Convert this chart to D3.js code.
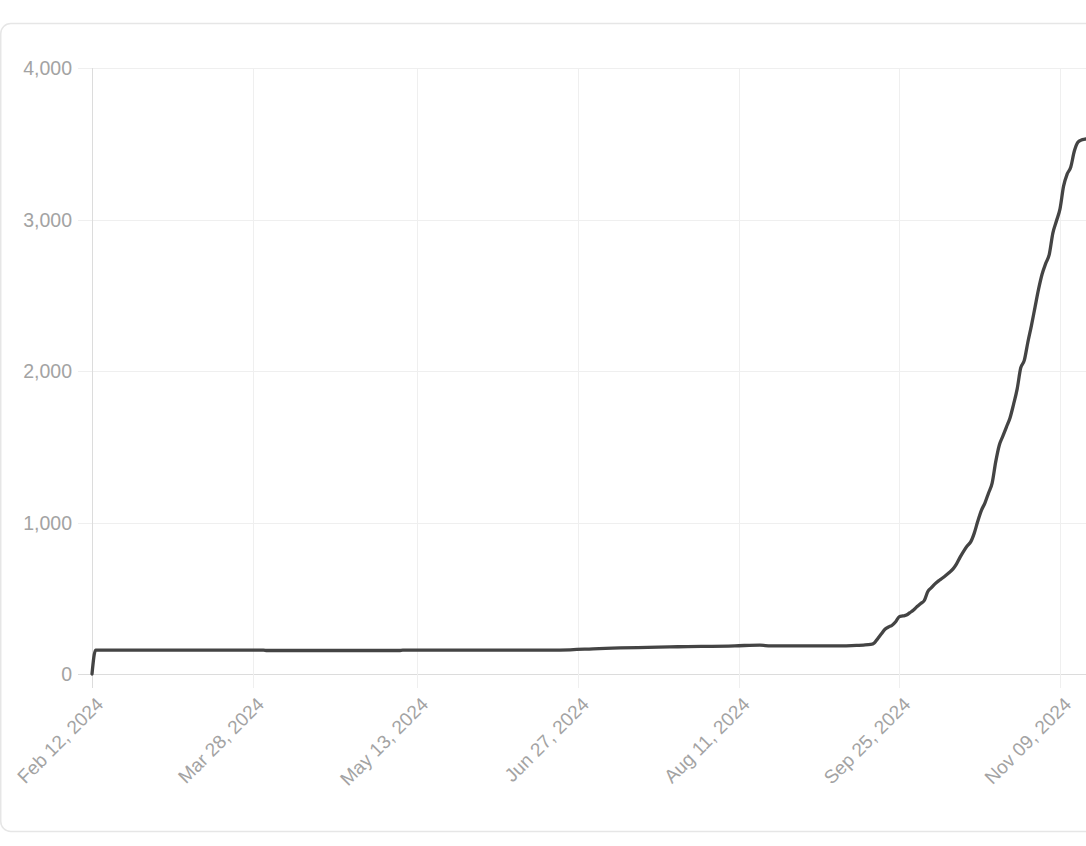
<!DOCTYPE html>
<html>
<head>
<meta charset="utf-8">
<script src="https://cdn.jsdelivr.net/npm/d3@7/dist/d3.min.js"></script>
<style>
  html, body { margin: 0; padding: 0; background: #fff; }
  svg { display: block; }
  text { font-family: "Liberation Sans", Arial, Helvetica, sans-serif; }
</style>
</head>
<body>
<svg id="chart" width="1086" height="846"></svg>
<script>
// ---- data ----
const dates = [
  "2024-02-12","2024-02-13","2024-03-31","2024-04-01","2024-05-08","2024-05-09",
  "2024-06-22","2024-07-03","2024-07-25","2024-08-10","2024-08-17","2024-08-20",
  "2024-09-09","2024-09-13","2024-09-15","2024-09-17",
  "2024-09-18","2024-09-19","2024-09-20","2024-09-21","2024-09-22","2024-09-23",
  "2024-09-24","2024-09-25","2024-09-26","2024-09-27","2024-09-28","2024-09-29",
  "2024-09-30","2024-10-01","2024-10-02","2024-10-03","2024-10-04","2024-10-05",
  "2024-10-06","2024-10-07","2024-10-08","2024-10-09","2024-10-10","2024-10-11",
  "2024-10-12","2024-10-13","2024-10-14","2024-10-15","2024-10-16","2024-10-17",
  "2024-10-18","2024-10-19","2024-10-20","2024-10-21","2024-10-22","2024-10-23",
  "2024-10-24","2024-10-25","2024-10-26","2024-10-27","2024-10-28","2024-10-29",
  "2024-10-30","2024-10-31","2024-11-01","2024-11-02","2024-11-03","2024-11-04",
  "2024-11-05","2024-11-06","2024-11-07","2024-11-08","2024-11-09","2024-11-10",
  "2024-11-11","2024-11-12","2024-11-13","2024-11-14","2024-11-15","2024-11-16",
  "2024-11-17"
];
const values = [
  0, 158, 158, 155, 155, 158,
  158, 168, 180, 186, 191, 185,
  185, 189, 191, 195,
  205, 235, 265, 295, 310, 322,
  345, 378, 383, 389, 405, 422,
  445, 465, 485, 545, 570, 595,
  615, 632, 650, 670, 692, 725,
  770, 810, 845, 872, 930, 1010,
  1080, 1130, 1195, 1260, 1400, 1510,
  1570, 1630, 1690, 1780, 1880, 2020,
  2070, 2190, 2300, 2420, 2540, 2640,
  2710, 2770, 2910, 2990, 3070, 3220,
  3300, 3345, 3450, 3510, 3525, 3530,
  3535
];
const xTickDates = ["2024-02-12","2024-03-28","2024-05-13","2024-06-27","2024-08-11","2024-09-25","2024-11-09"];
const xTickLabels = ["Feb 12, 2024","Mar 28, 2024","May 13, 2024","Jun 27, 2024","Aug 11, 2024","Sep 25, 2024","Nov 09, 2024"];
const yTicks = [0, 1000, 2000, 3000, 4000];

// ---- layout ----
const svg = d3.select("#chart");
const plotLeft = 92, plotTop = 68, plotBottom = 674;
const parse = d3.utcParse("%Y-%m-%d");
const data = dates.map((d, i) => ({ date: parse(d), value: values[i] }));

const x = d3.scaleUtc()
  .domain([parse("2024-02-12"), parse("2024-11-09")])
  .range([plotLeft, 1060]);
const y = d3.scaleLinear().domain([0, 4000]).range([plotBottom, plotTop]);

// card
svg.append("rect")
  .attr("x", 0.75).attr("y", 23.5)
  .attr("width", 1120).attr("height", 808)
  .attr("rx", 10)
  .attr("fill", "#fff")
  .attr("stroke", "#e6e6e6")
  .attr("stroke-width", 1.5);

const rightEdge = 1100;

// horizontal grid + y labels
const gy = svg.append("g");
gy.selectAll("line").data(yTicks).join("line")
  .attr("x1", 78).attr("x2", rightEdge)
  .attr("y1", d => Math.round(y(d)) + 0.5).attr("y2", d => Math.round(y(d)) + 0.5)
  .attr("stroke", d => d === 0 ? "#dcdcdc" : "#efefef")
  .attr("stroke-width", 1);
gy.selectAll("text").data(yTicks).join("text")
  .attr("x", 72).attr("y", d => y(d))
  .attr("dy", "0.36em")
  .attr("text-anchor", "end")
  .attr("fill", "#a3a3a3")
  .attr("font-size", 19.5)
  .text(d => d3.format(",")(d));

// vertical grid + x labels
const tickData = xTickDates.map((d, i) => ({ date: parse(d), label: xTickLabels[i] }));
const gx = svg.append("g");
gx.selectAll("line").data(tickData).join("line")
  .attr("y1", plotTop).attr("y2", 688)
  .attr("x1", d => Math.round(x(d.date)) + 0.5).attr("x2", d => Math.round(x(d.date)) + 0.5)
  .attr("stroke", (d, i) => i === 0 ? "#dcdcdc" : "#efefef")
  .attr("stroke-width", 1);
gx.selectAll("text").data(tickData).join("text")
  .attr("transform", d => `translate(${x(d.date) + 3},${696}) rotate(-45)`)
  .attr("text-anchor", "end")
  .attr("dy", "0.7em")
  .attr("fill", "#a3a3a3")
  .attr("font-size", 19)
  .text(d => d.label);

// line
const line = d3.line()
  .x(d => x(d.date))
  .y(d => y(d.value))
  .curve(d3.curveMonotoneX);
svg.append("path")
  .datum(data)
  .attr("d", line)
  .attr("fill", "none")
  .attr("stroke", "#444")
  .attr("stroke-width", 3.3)
  .attr("stroke-linejoin", "round")
  .attr("stroke-linecap", "round");
</script>
</body>
</html>
